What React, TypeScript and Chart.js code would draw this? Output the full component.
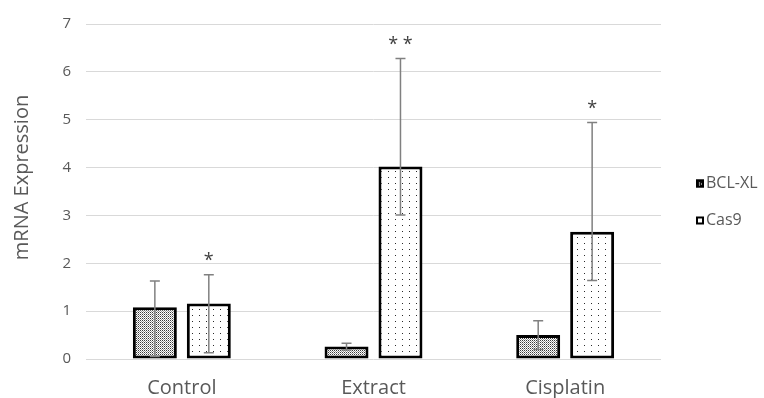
import React, { useEffect, useRef } from "react";
import { Chart, registerables } from "chart.js";

Chart.register(...registerables);

const categories = ["Control", "Extract", "Cisplatin"];
const seriesNames = ["BCL-XL", "Cas9"];
const bclValues = [1.08, 0.26, 0.5];
const cas9Values = [1.16, 4.02, 2.66];
const bclErrHigh = [1.63, 0.33, 0.8];
const bclErrLow = [0.05, 0.19, 0.2];
const cas9ErrHigh = [1.76, 6.28, 4.94];
const cas9ErrLow = [0.13, 3.01, 1.64];
const bclMarks = ["", "", ""];
const cas9Marks = ["*", "* *", "*"];
const yTickValues = [0, 1, 2, 3, 4, 5, 6, 7];
const yTitle = "mRNA Expression";

const FONT = "'Open Sans', 'DejaVu Sans', sans-serif";
const TEXT = "#595959";

function makePattern(kind: "dense" | "sparse"): CanvasPattern | string {
  const c = document.createElement("canvas");
  const ctx = c.getContext("2d")!;
  if (kind === "dense") {
    c.width = 2;
    c.height = 2;
    ctx.fillStyle = "#ffffff";
    ctx.fillRect(0, 0, 2, 2);
    ctx.fillStyle = "#3a3a3a";
    ctx.fillRect(0, 0, 1, 1);
    ctx.fillStyle = "#9a9a9a";
    ctx.fillRect(1, 1, 1, 1);
  } else {
    c.width = 7;
    c.height = 6;
    ctx.fillStyle = "#ffffff";
    ctx.fillRect(0, 0, 7, 6);
    ctx.fillStyle = "#2a2a2a";
    ctx.fillRect(3, 3, 1, 1);
  }
  const p = ctx.createPattern(c, "repeat");
  return p || "#ffffff";
}

export default function App() {
  const ref = useRef<HTMLCanvasElement | null>(null);

  useEffect(() => {
    document.body.style.margin = "0";
    const canvas = ref.current;
    if (!canvas) return;
    const densePat = makePattern("dense");
    const sparsePat = makePattern("sparse");
    const errHigh = [bclErrHigh, cas9ErrHigh];
    const errLow = [bclErrLow, cas9ErrLow];
    const marks = [bclMarks, cas9Marks];

    const overlay = {
      id: "overlay",
      afterDatasetsDraw(chart: any) {
        const ctx = chart.ctx;
        const y = chart.scales.y;
        ctx.save();
        chart.data.datasets.forEach((_: any, di: number) => {
          const meta = chart.getDatasetMeta(di);
          meta.data.forEach((el: any, j: number) => {
            const x = el.x;
            const yh = y.getPixelForValue(errHigh[di][j]);
            const yl = y.getPixelForValue(errLow[di][j]);
            ctx.strokeStyle = "#808080";
            ctx.lineWidth = 1.5;
            ctx.beginPath();
            ctx.moveTo(x, yh);
            ctx.lineTo(x, yl);
            ctx.moveTo(x - 5, yh);
            ctx.lineTo(x + 5, yh);
            ctx.moveTo(x - 5, yl);
            ctx.lineTo(x + 5, yl);
            ctx.stroke();
            const m = marks[di][j];
            if (m) {
              ctx.fillStyle = "#404040";
              ctx.font = `18px ${FONT}`;
              ctx.textAlign = "center";
              ctx.textBaseline = "middle";
              ctx.fillText(m, x, yh - 14);
            }
          });
        });
        const area = chart.chartArea;
        // y title
        ctx.save();
        ctx.translate(22, (area.top + area.bottom) / 2 - 14);
        ctx.rotate(-Math.PI / 2);
        ctx.fillStyle = TEXT;
        ctx.font = `20px ${FONT}`;
        ctx.textAlign = "center";
        ctx.textBaseline = "middle";
        ctx.fillText(yTitle, 0, 0);
        ctx.restore();
        // legend
        const lx = area.right + 35;
        const mid = (area.top + area.bottom) / 2;
        seriesNames.forEach((name, i) => {
          const cy = mid - 8 + i * 37;
          ctx.fillStyle = i === 0 ? "#111111" : "#ffffff";
          ctx.fillRect(lx, cy - 4, 8, 8);
          ctx.strokeStyle = "#000000";
          ctx.lineWidth = 2;
          ctx.strokeRect(lx + 1, cy - 3, 6, 6);
          if (i === 0) {
            ctx.fillStyle = "#ffffff";
            ctx.fillRect(lx + 3, cy - 1, 1, 1);
            ctx.fillRect(lx + 5, cy, 1, 1);
            ctx.fillRect(lx + 3, cy + 1, 1, 1);
          }
          ctx.fillStyle = TEXT;
          ctx.font = `16px ${FONT}`;
          ctx.textAlign = "left";
          ctx.textBaseline = "middle";
          ctx.fillText(name, lx + 10, cy);
        });
        ctx.restore();
      },
    };

    const chart = new Chart(canvas, {
      type: "bar",
      data: {
        labels: categories,
        datasets: [
          {
            label: seriesNames[0],
            data: bclValues,
            backgroundColor: densePat as any,
            borderColor: "#000000",
            borderWidth: 3,
            borderSkipped: false,
            categoryPercentage: 0.563,
            barPercentage: 0.815,
          },
          {
            label: seriesNames[1],
            data: cas9Values,
            backgroundColor: sparsePat as any,
            borderColor: "#000000",
            borderWidth: 3,
            borderSkipped: false,
            categoryPercentage: 0.563,
            barPercentage: 0.815,
          },
        ],
      },
      options: {
        responsive: false,
        animation: false,
        layout: { padding: { left: 0, right: 103, top: 24, bottom: 0 } },
        plugins: { legend: { display: false }, tooltip: { enabled: false } },
        scales: {
          x: {
            grid: { display: false, drawTicks: false },
            border: { display: false },
            ticks: { color: TEXT, font: { family: FONT, size: 20 }, padding: 17 },
            afterFit(scale: any) {
              scale.height = 39;
            },
          },
          y: {
            min: 0,
            max: 7,
            afterBuildTicks(scale: any) {
              scale.ticks = yTickValues.map((v) => ({ value: v }));
            },
            grid: { color: "#d9d9d9", lineWidth: 1, drawTicks: false },
            border: { display: false },
            ticks: { color: TEXT, font: { family: FONT, size: 15 }, padding: 15 },
            title: { display: false },
            afterFit(scale: any) {
              scale.width = 86;
            },
          },
        },
      },
      plugins: [overlay],
    });
    return () => chart.destroy();
  }, []);

  return (
    <div style={{ width: 764, height: 398, background: "#fff" }}>
      <canvas ref={ref} width={764} height={398} />
    </div>
  );
}
